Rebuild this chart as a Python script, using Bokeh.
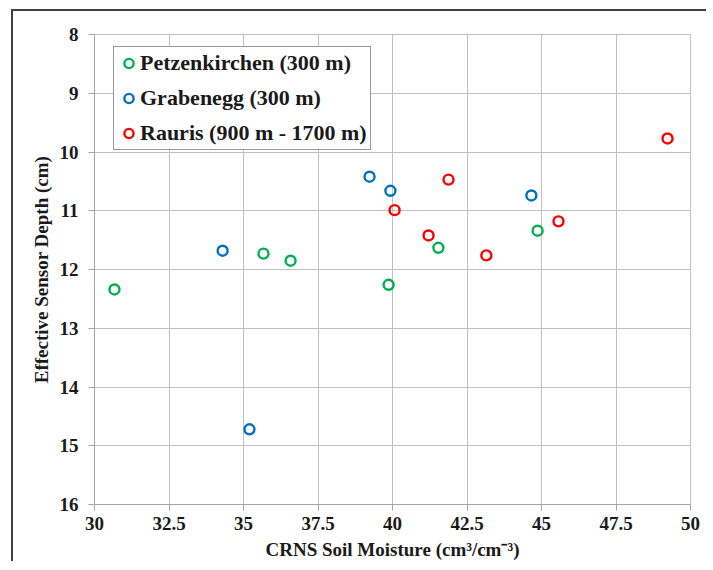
from bokeh.plotting import figure
from bokeh.models import Range1d, FixedTicker, Legend, LegendItem
from bokeh.embed import file_html
from bokeh.resources import INLINE

# Data
petz_x = [30.67, 35.67, 36.58, 39.87, 41.54, 44.87]
petz_y = [12.34, 11.73, 11.85, 12.26, 11.63, 11.34]
grab_x = [39.23, 39.93, 34.30, 44.66, 35.20]
grab_y = [10.42, 10.66, 11.68, 10.74, 14.72]
raur_x = [49.23, 41.88, 40.07, 41.21, 43.15, 45.57]
raur_y = [9.77, 10.47, 10.99, 11.42, 11.76, 11.18]

x_ticks = [30, 32.5, 35, 37.5, 40, 42.5, 45, 47.5, 50]
x_tick_labels = ["30", "32.5", "35", "37.5", "40", "42.5", "45", "47.5", "50"]
y_ticks = [8, 9, 10, 11, 12, 13, 14, 15, 16]

series_names = ["Petzenkirchen (300 m)", "Grabenegg (300 m)", "Rauris (900 m - 1700 m)"]
colors = ["#00b050", "#0070c0", "#ff0000"]

FONT = "Liberation Serif"

p = figure(width=695, height=552, output_backend="svg", toolbar_location=None,
           x_range=Range1d(30, 50), y_range=Range1d(16, 8),
           min_border_left=81, min_border_right=18, min_border_top=23, min_border_bottom=59,
           styles={"margin-left": "11px", "margin-top": "9px",
                   "border-top": "2px solid #404040", "border-left": "2px solid #404040"})

renderers = []
for xs, ys, c in zip([petz_x, grab_x, raur_x], [petz_y, grab_y, raur_y], colors):
    r = p.scatter(xs, ys, size=10, marker="circle", fill_color="white", fill_alpha=0,
                  line_color=c, line_width=2.4)
    renderers.append(r)

p.xaxis.ticker = FixedTicker(ticks=x_ticks)
p.xaxis.major_label_overrides = {t: l for t, l in zip(x_ticks, x_tick_labels)}
p.yaxis.ticker = FixedTicker(ticks=y_ticks)

for ax in [p.xaxis[0], p.yaxis[0]]:
    ax.axis_line_color = "#a6a6a6"
    ax.major_tick_line_color = "#a6a6a6"
    ax.major_tick_out = 6
    ax.major_tick_in = 0
    ax.minor_tick_line_color = None
    ax.major_label_text_font = FONT
    ax.major_label_text_font_style = "bold"
    ax.major_label_text_font_size = "19px"
    ax.major_label_text_color = "#1a1a1a"
    ax.axis_label_text_font = FONT
    ax.axis_label_text_font_style = "bold"
    ax.axis_label_text_font_size = "19px"
    ax.axis_label_text_color = "#1a1a1a"

p.xaxis.axis_label = "CRNS Soil Moisture (cm³/cm⁻³)"
p.yaxis.axis_label = "Effective Sensor Depth (cm)"
p.xaxis.major_label_standoff = 6
p.yaxis.major_label_standoff = 10
p.xaxis.axis_label_standoff = 6
p.yaxis.axis_label_standoff = 5

p.xgrid.ticker = FixedTicker(ticks=x_ticks)
p.ygrid.ticker = FixedTicker(ticks=y_ticks)
p.grid.grid_line_color = "#c0c0c0"
p.grid.grid_line_width = 1
p.outline_line_color = "#c0c0c0"

legend = Legend(items=[LegendItem(label=n, renderers=[r]) for n, r in zip(series_names, renderers)],
                location=(19, 354))
legend.label_text_font = FONT
legend.label_text_font_style = "bold"
legend.label_text_font_size = "22px"
legend.label_text_color = "#1a1a1a"
legend.glyph_width = 23
legend.glyph_height = 26
legend.label_height = 26
legend.label_standoff = 0
legend.spacing = 9
legend.padding = 3
legend.margin = 0
legend.border_line_color = "#333333"
legend.border_line_width = 1
legend.background_fill_color = "white"
legend.background_fill_alpha = 1
p.add_layout(legend, "center")

p.background_fill_color = "white"
p.border_fill_color = "white"

open("out.html", "w").write(file_html(p, INLINE))
